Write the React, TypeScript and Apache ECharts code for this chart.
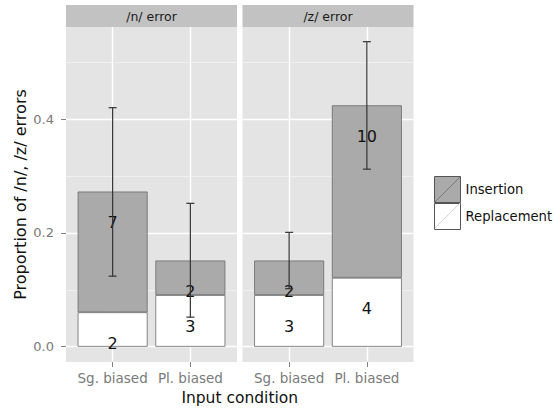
import React, { useEffect, useRef } from "react";
import * as echarts from "echarts";

const categories = ["Sg. biased", "Pl. biased"];
const xPositions = [1, 2];
const panelTitles = ["/n/ error", "/z/ error"];
const seriesNames = ["Insertion", "Replacement"];
const replacementValues = [
  [0.0606, 0.0909],
  [0.0909, 0.1212],
];
const insertionValues = [
  [0.2121, 0.0606],
  [0.0606, 0.303],
];
const replacementCounts = [
  [2, 3],
  [3, 4],
];
const insertionCounts = [
  [7, 2],
  [2, 10],
];
const errorLower = [
  [0.124, 0.052],
  [0.102, 0.312],
];
const errorUpper = [
  [0.42, 0.252],
  [0.201, 0.536],
];
const yTickValues = [0, 0.2, 0.4];
const yMinorValues = [0.1, 0.3, 0.5];
const yRange = [-0.0268, 0.5618];
const xRange = [0.4, 2.6];

const FONT = "DejaVu Sans";
const PANEL_LEFT = [66, 242.5];
const PANEL_W = 171;
const PANEL_TOP = 27;
const PANEL_H = 335;

export default function App() {
  const ref = useRef<HTMLDivElement>(null);
  useEffect(() => {
    if (!ref.current) return;
    const chart = echarts.init(ref.current, undefined, { renderer: "svg" });
    const xSpan = xRange[1] - xRange[0];
    const bandOffset = ((0.5 - xRange[0]) / xSpan) * PANEL_W;
    const bandWidth = (categories.length / xSpan) * PANEL_W;

    // grids 0,1: visible panels (value x axis); grids 2,3: category grids for bars
    const grids: any[] = PANEL_LEFT.map((left) => ({
      left,
      top: PANEL_TOP,
      width: PANEL_W,
      height: PANEL_H,
      show: true,
      backgroundColor: "#E4E4E4",
      borderWidth: 0,
    }));
    PANEL_LEFT.forEach((left) => {
      grids.push({
        left: left + bandOffset,
        top: PANEL_TOP,
        width: bandWidth,
        height: PANEL_H,
        show: false,
      });
    });

    const xAxes: any[] = PANEL_LEFT.map((_, i) => ({
      type: "value",
      gridIndex: i,
      min: xRange[0],
      max: xRange[1],
      axisLine: { show: false, onZero: false },
      axisTick: {
        show: true,
        length: 5,
        customValues: xPositions,
        lineStyle: { color: "#7F7F7F", width: 1 },
      },
      axisLabel: {
        customValues: xPositions,
        formatter: (v: number) => categories[Math.round(v) - 1] ?? "",
        margin: 9,
        color: "#7A7A7A",
        fontSize: 13.5,
        fontFamily: FONT,
      },
      splitLine: { show: false },
    }));
    PANEL_LEFT.forEach((_, i) => {
      xAxes.push({
        type: "category",
        gridIndex: 2 + i,
        data: categories,
        boundaryGap: true,
        axisLine: { show: false },
        axisTick: { show: false },
        axisLabel: { show: false },
        splitLine: { show: false },
      });
    });

    const yAxes: any[] = PANEL_LEFT.map((_, i) => ({
      type: "value",
      gridIndex: i,
      min: yRange[0],
      max: yRange[1],
      name: i === 0 ? "Proportion of /n/, /z/ errors" : "",
      nameLocation: "middle",
      nameRotate: 90,
      nameGap: 38,
      nameTextStyle: { fontSize: 16, color: "#111111", fontFamily: FONT },
      axisLine: { show: false, onZero: false },
      axisTick: {
        show: i === 0,
        length: 5,
        customValues: yTickValues,
        lineStyle: { color: "#7F7F7F", width: 1 },
      },
      axisLabel: {
        show: i === 0,
        customValues: yTickValues,
        formatter: (v: number) => v.toFixed(1),
        margin: 12,
        color: "#7A7A7A",
        fontSize: 13,
        fontFamily: FONT,
      },
      splitLine: { show: false },
    }));
    PANEL_LEFT.forEach((_, i) => {
      yAxes.push({
        type: "value",
        gridIndex: 2 + i,
        min: yRange[0],
        max: yRange[1],
        show: false,
        splitLine: { show: false },
      });
    });

    const series: any[] = [];
    PANEL_LEFT.forEach((_, i) => {
      const major = { color: "#FFFFFF", width: 1.4, type: "solid" };
      const minor = { color: "#F2F2F2", width: 0.8, type: "solid" };
      series.push({
        name: "grid" + i,
        type: "line",
        xAxisIndex: i,
        yAxisIndex: i,
        data: [],
        silent: true,
        markLine: {
          silent: true,
          z: 1,
          symbol: ["none", "none"],
          label: { show: false },
          animation: false,
          data: [
            ...yMinorValues.map((v) => ({ yAxis: v, lineStyle: minor })),
            ...yTickValues.map((v) => ({ yAxis: v, lineStyle: major })),
            ...xPositions.map((v) => ({ xAxis: v, lineStyle: major })),
          ],
        },
      });
      series.push({
        name: "Replacement",
        type: "bar",
        xAxisIndex: 2 + i,
        yAxisIndex: 2 + i,
        stack: "panel" + i,
        barWidth: "90%",
        data: replacementValues[i],
        itemStyle: { color: "#FFFFFF", borderColor: "#6A6A6A", borderWidth: 0.8 },
        label: {
          show: true,
          position: "insideTop",
          distance: 23,
          formatter: (p: any) => String(replacementCounts[i][p.dataIndex]),
          fontSize: 16,
          color: "#111111",
          fontFamily: FONT,
        },
        z: 2,
      });
      series.push({
        name: "Insertion",
        type: "bar",
        xAxisIndex: 2 + i,
        yAxisIndex: 2 + i,
        stack: "panel" + i,
        barWidth: "90%",
        data: insertionValues[i],
        itemStyle: { color: "#AAAAAA", borderColor: "#6A6A6A", borderWidth: 0.8 },
        label: {
          show: true,
          position: "insideTop",
          distance: 23,
          formatter: (p: any) => String(insertionCounts[i][p.dataIndex]),
          fontSize: 16,
          color: "#111111",
          fontFamily: FONT,
        },
        z: 2,
      });
      series.push({
        name: "errorbar" + i,
        type: "custom",
        xAxisIndex: i,
        yAxisIndex: i,
        z: 5,
        silent: true,
        encode: { x: 0, y: [1, 2] },
        data: xPositions.map((x, j) => [x, errorLower[i][j], errorUpper[i][j]]),
        renderItem: (params: any, api: any) => {
          const x = api.value(0);
          const lo = api.coord([x, api.value(1)]);
          const hi = api.coord([x, api.value(2)]);
          const hw = 4;
          const style = { stroke: "#333333", lineWidth: 1.2 };
          return {
            type: "group",
            children: [
              { type: "line", shape: { x1: lo[0], y1: lo[1], x2: hi[0], y2: hi[1] }, style },
              { type: "line", shape: { x1: lo[0] - hw, y1: lo[1], x2: lo[0] + hw, y2: lo[1] }, style },
              { type: "line", shape: { x1: hi[0] - hw, y1: hi[1], x2: hi[0] + hw, y2: hi[1] }, style },
            ],
          };
        },
      });
    });

    const graphics: any[] = [];
    PANEL_LEFT.forEach((left, i) => {
      graphics.push({
        type: "rect",
        shape: { x: left, y: 5, width: PANEL_W, height: 22 },
        style: { fill: "#C2C2C2" },
      });
      graphics.push({
        type: "text",
        x: left + PANEL_W / 2,
        y: 16,
        style: {
          text: panelTitles[i],
          fill: "#1A1A1A",
          fontSize: 12.5,
          fontFamily: FONT,
          align: "center",
          verticalAlign: "middle",
        },
      });
    });
    graphics.push({
      type: "text",
      x: (PANEL_LEFT[0] + PANEL_LEFT[1] + PANEL_W) / 2,
      y: 398,
      style: {
        text: "Input condition",
        fill: "#111111",
        fontSize: 15.5,
        fontFamily: FONT,
        align: "center",
        verticalAlign: "middle",
      },
    });
    // legend key diagonals
    graphics.push({
      type: "line",
      shape: { x1: 435, y1: 202, x2: 460, y2: 177 },
      style: { stroke: "#6A6A6A", lineWidth: 0.8 },
      z: 10,
    });
    graphics.push({
      type: "line",
      shape: { x1: 435, y1: 228, x2: 460, y2: 203 },
      style: { stroke: "#C8C8C8", lineWidth: 0.8 },
      z: 10,
    });

    chart.setOption({
      animation: false,
      backgroundColor: "#FFFFFF",
      grid: grids,
      xAxis: xAxes,
      yAxis: yAxes,
      legend: {
        data: seriesNames,
        orient: "vertical",
        left: 434,
        top: 176,
        itemWidth: 26,
        itemHeight: 26,
        itemGap: 0,
        icon: "rect",
        selectedMode: false,
        padding: 0,
        textStyle: { fontSize: 13.2, color: "#111111", fontFamily: FONT },
        itemStyle: { borderColor: "#555555", borderWidth: 1 },
      },
      graphic: graphics,
      series,
    });
    return () => chart.dispose();
  }, []);
  return (
    <div
      ref={ref}
      style={{ position: "absolute", left: 0, top: 0, width: 554, height: 411 }}
    />
  );
}
